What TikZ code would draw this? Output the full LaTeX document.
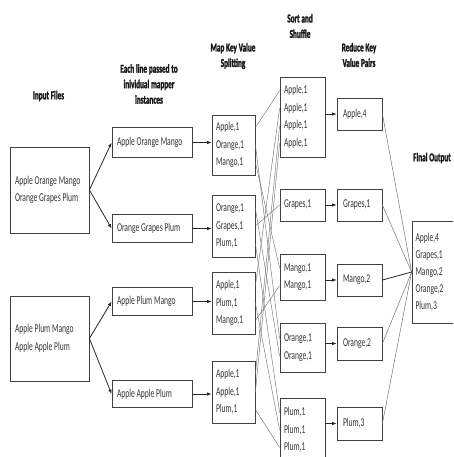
\documentclass[tikz,border=0pt]{standalone}
\usepackage{fontspec}
\newfontfamily\bodyfont[FakeStretch=0.63]{Carlito}
\newfontfamily\headfont[FakeStretch=0.6,FakeBold=2]{Carlito Bold}
\newcommand\mybodyfmt{\bodyfont\fontsize{12}{17.5}\selectfont}
\newcommand\myfinfmt{\bodyfont\fontsize{12}{17}\selectfont}
\newcommand\myheadfmt{\headfont\fontsize{12}{15.5}\selectfont}
\newcommand\mynarrowsp{\spaceskip=1.8pt plus 0.3pt minus 0.3pt\xspaceskip=1.8pt\relax}
\usetikzlibrary{arrows.meta}
\begin{document}
\begin{tikzpicture}[x=1pt,y=-1pt,
  box/.style={draw=black!75, line width=0.8pt, inner ysep=0pt, align=left,
    font=\mybodyfmt, text=black!80, execute at begin node=\mynarrowsp},
  fin/.style={box, font=\myfinfmt},
  head/.style={align=center, text=black!90, font=\myheadfmt, execute at begin node=\mynarrowsp},
  arr/.style={-{Latex[length=4.5pt,width=3.5pt]}, line width=0.8pt, black!85},
  ln/.style={line width=0.45pt, black!55},
  rl/.style={line width=0.5pt, black!55}]
\useasboundingbox (0,0) rectangle (453,457);
\clip (0,0) rectangle (453,457);

% headings
\node[head] (h1) at (48.5,96) {Input Files};
\node[head] (h2) at (149,84) {Each line passed to\\inividual mapper\\instances};
\node[head] (h3) at (233,56) {Map Key Value\\Splitting};
\node[head] (h4) at (300,26) {Sort and\\Shuffle};
\node[head] (h5) at (359,55) {Reduce Key\\Value Pairs};
\node[head] (h6) at (432,158) {Final Output};

% input files
\node[box, inner xsep=5pt, text width=69pt, minimum height=86pt] (in1) at (49.5,190) {Apple Orange Mango\\Orange Grapes Plum};
\node[box, inner xsep=5pt, text width=69pt, minimum height=85pt] (in2) at (49.5,338.5) {Apple Plum Mango\\Apple Apple Plum};

% mappers
\node[box, inner xsep=5pt, text width=70pt, minimum height=30pt] (m1) at (152,142.5) {Apple Orange Mango};
\node[box, inner xsep=5pt, text width=70pt, minimum height=28pt] (m2) at (152,228.5) {Orange Grapes Plum};
\node[box, inner xsep=5pt, text width=70pt, minimum height=28pt] (m3) at (152,301.5) {Apple Plum Mango};
\node[box, inner xsep=5pt, text width=70pt, minimum height=27pt] (m4) at (152,394) {Apple Apple Plum};

% splitting
\node[box, inner xsep=4pt, text width=35pt, minimum height=60pt] (s1) at (233.5,145) {Apple,1\\Orange,1\\Mango,1};
\node[box, inner xsep=4pt, text width=35pt, minimum height=62pt] (s2) at (233.5,226) {Orange,1\\Grapes,1\\Plum,1};
\node[box, inner xsep=4pt, text width=35pt, minimum height=62pt] (s3) at (233.5,303) {Apple,1\\Plum,1\\Mango,1};
\node[box, inner xsep=4pt, text width=35pt, minimum height=62pt] (s4) at (233.5,392) {Apple,1\\Apple,1\\Plum,1};

% sort and shuffle
\node[box, inner xsep=4pt, text width=37pt, minimum height=80pt] (so1) at (302.5,117) {Apple,1\\Apple,1\\Apple,1\\Apple,1};
\node[box, inner xsep=4pt, text width=37pt, minimum height=32pt] (so2) at (302.5,205) {Grapes,1};
\node[box, inner xsep=4pt, text width=37pt, minimum height=46pt] (so3) at (302.5,277) {Mango,1\\Mango,1};
\node[box, inner xsep=4pt, text width=37pt, minimum height=49pt] (so4) at (302.5,347.5) {Orange,1\\Orange,1};
\node[box, inner xsep=4pt, text width=37pt, minimum height=64pt] (so5) at (302.5,430) {Plum,1\\Plum,1\\Plum,1};

% reduce
\node[box, inner xsep=6pt, text width=33pt, minimum height=32pt] (r1) at (359.5,114) {Apple,4};
\node[box, inner xsep=6pt, text width=33pt, minimum height=32pt] (r2) at (359.5,205) {Grapes,1};
\node[box, inner xsep=6pt, text width=33pt, minimum height=32pt] (r3) at (359.5,280) {Mango,2};
\node[box, inner xsep=6pt, text width=33pt, minimum height=33pt] (r4) at (359.5,343.5) {Orange,2};
\node[box, inner xsep=6pt, text width=33pt, minimum height=33pt] (r5) at (359.5,423.5) {Plum,3};

% final
\node[fin, inner xsep=3.5pt, text width=41pt, minimum height=102pt] (fo) at (436,272) {Apple,4\\Grapes,1\\Mango,2\\Orange,2\\Plum,3};

% input -> mapper
\draw[arr] (in1.east) -- (m1.west);
\draw[arr] (in1.east) -- (m2.west);
\draw[arr] (in2.east) -- (m3.west);
\draw[arr] (in2.east) -- (m4.west);

% mapper -> split
\draw[arr] (m1.east) -- (m1.east -| s1.west);
\draw[arr] (m2.east) -- (m2.east -| s2.west);
\draw[arr] (m3.east) -- (m3.east -| s3.west);
\draw[arr] (m4.east) -- (m4.east -| s4.west);

% split -> sort
\draw[ln] ([yshift=17.5pt]s1.east) -- ([yshift=26.25pt]so1.west);
\draw[ln] (s1.east) -- ([yshift=8.75pt]so4.west);
\draw[ln] ([yshift=-17.5pt]s1.east) -- ([yshift=8.75pt]so3.west);
\draw[ln] ([yshift=17.5pt]s2.east) -- ([yshift=-8.75pt]so4.west);
\draw[ln] (s2.east) -- (so2.west);
\draw[ln] ([yshift=-17.5pt]s2.east) -- ([yshift=17.5pt]so5.west);
\draw[ln] ([yshift=17.5pt]s3.east) -- ([yshift=8.75pt]so1.west);
\draw[ln] (s3.east) -- (so5.west);
\draw[ln] ([yshift=-17.5pt]s3.east) -- ([yshift=-8.75pt]so3.west);
\draw[ln] ([yshift=17.5pt]s4.east) -- ([yshift=-8.75pt]so1.west);
\draw[ln] (s4.east) -- ([yshift=-26.25pt]so1.west);
\draw[ln] ([yshift=-17.5pt]s4.east) -- ([yshift=-17.5pt]so5.west);

% sort -> reduce
\draw[arr] (r1.west -| so1.east) -- (r1.west);
\draw[arr] (so2.east) -- (r2.west);
\draw[arr] (r3.west -| so3.east) -- (r3.west);
\draw[arr] (r4.west -| so4.east) -- (r4.west);
\draw[arr] (r5.west -| so5.east) -- (r5.west);

% reduce -> final
\draw[rl] (r1.east) -- (fo.west);
\draw[rl] (r2.east) -- (fo.west);
\draw[line width=0.8pt, black!85] (r3.east) -- (fo.west);
\draw[rl] (r4.east) -- (fo.west);
\draw[rl] (r5.east) -- (fo.west);
\end{tikzpicture}
\end{document}
